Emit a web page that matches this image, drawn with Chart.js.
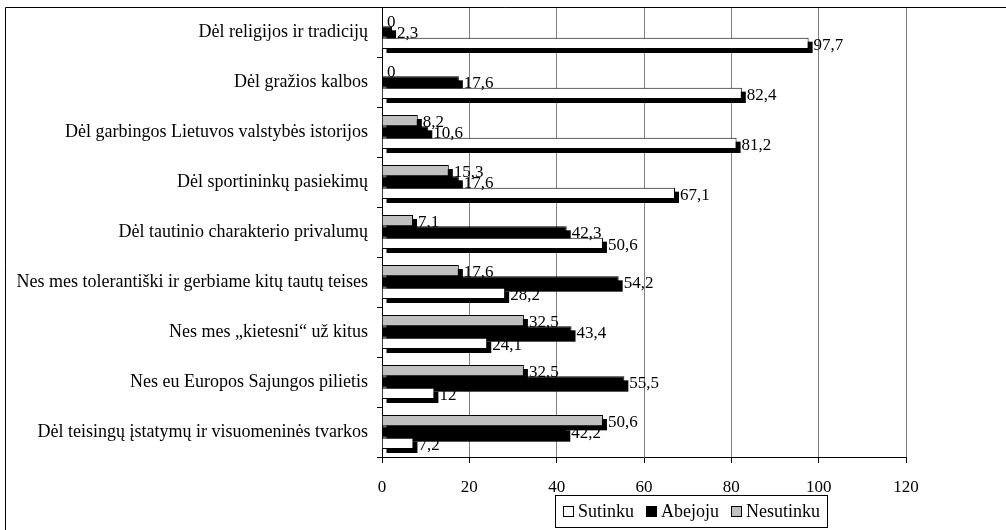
<!DOCTYPE html>
<html lang="lt">
<head>
    <meta charset="UTF-8">
    <title>Chart</title>
    <style>
        html, body {
            margin: 0;
            padding: 0;
            background: #fff;
            overflow: hidden;
        }
        #wrap {
            width: 1006px;
            height: 530px;
        }
    </style>
</head>
<body>
    <div id="wrap"><canvas id="barChart" width="1006" height="530"></canvas></div>

    <script src="https://cdn.jsdelivr.net/npm/chart.js"></script>
    <script>
        // categories, top to bottom
        const categories = [
            'Dėl religijos ir tradicijų',
            'Dėl gražios kalbos',
            'Dėl garbingos Lietuvos valstybės istorijos',
            'Dėl sportininkų pasiekimų',
            'Dėl tautinio charakterio privalumų',
            'Nes mes tolerantiški ir gerbiame kitų tautų teises',
            'Nes mes „kietesni“ už kitus',
            'Nes eu Europos Sajungos pilietis',
            'Dėl teisingų įstatymų ir visuomeninės tvarkos'
        ];
        const sutinku   = [97.7, 82.4, 81.2, 67.1, 50.6, 28.2, 24.1, 12, 7.2];
        const abejoju   = [2.3, 17.6, 10.6, 17.6, 42.3, 54.2, 43.4, 55.5, 42.2];
        const nesutinku = [0, 0, 8.2, 15.3, 7.1, 17.6, 32.5, 32.5, 50.6];
        const xTicks = [0, 20, 40, 60, 80, 100, 120];

        const FONT = 'Liberation Serif, Times New Roman, serif';
        const SHADOW = 4;

        const fmt = v => String(v).replace('.', ',');

        // drop shadow under bars (drawn first), value labels after
        const barDecor = {
            id: 'barDecor',
            beforeDatasetsDraw(chart) {
                const ctx = chart.ctx;
                ctx.save();
                ctx.fillStyle = '#000';
                chart.data.datasets.forEach((ds, i) => {
                    chart.getDatasetMeta(i).data.forEach(bar => {
                        const x0 = Math.min(bar.base, bar.x);
                        const w = Math.abs(bar.x - bar.base);
                        if (w <= 0) return;
                        ctx.fillRect(x0 + SHADOW, bar.y - bar.height / 2 + SHADOW, w, bar.height);
                    });
                });
                ctx.restore();
            },
            afterDatasetsDraw(chart) {
                const ctx = chart.ctx;
                ctx.save();
                ctx.font = '17px ' + FONT;
                ctx.fillStyle = '#000';
                ctx.textAlign = 'left';
                ctx.textBaseline = 'middle';
                chart.data.datasets.forEach((ds, i) => {
                    chart.getDatasetMeta(i).data.forEach((bar, j) => {
                        ctx.fillText(fmt(ds.data[j]), bar.x + SHADOW + 1, bar.y + 2);
                    });
                });
                ctx.restore();
            }
        };

        // outer frame and boxed legend
        const frameLegend = {
            id: 'frameLegend',
            afterDraw(chart) {
                const ctx = chart.ctx;
                ctx.save();
                ctx.strokeStyle = '#000';
                ctx.lineWidth = 1;
                ctx.beginPath();
                ctx.moveTo(5.5, 530);
                ctx.lineTo(5.5, 7.5);
                ctx.lineTo(1006, 7.5);
                ctx.stroke();

                const items = [
                    { label: 'Sutinku', color: '#fff' },
                    { label: 'Abejoju', color: '#000' },
                    { label: 'Nesutinku', color: '#c0c0c0' }
                ];
                ctx.font = '18px ' + FONT;
                ctx.textBaseline = 'middle';
                ctx.textAlign = 'left';
                let x = 563;
                const cy = 512;
                items.forEach(it => {
                    ctx.fillStyle = it.color;
                    ctx.fillRect(x + 0.5, cy - 5.5, 10, 10);
                    ctx.strokeRect(x + 0.5, cy - 5.5, 10, 10);
                    ctx.fillStyle = '#000';
                    ctx.fillText(it.label, x + 15, cy);
                    x += 15 + ctx.measureText(it.label).width + 12;
                });
                ctx.strokeRect(555.5, 495.5, 272, 32);
                ctx.restore();
            }
        };

        const ctx = document.getElementById('barChart').getContext('2d');
        new Chart(ctx, {
            type: 'bar',
            data: {
                labels: categories,
                datasets: [
                    {
                        label: 'Nesutinku',
                        data: nesutinku,
                        backgroundColor: '#c0c0c0',
                        borderColor: '#000',
                        borderWidth: 1
                    },
                    {
                        label: 'Abejoju',
                        data: abejoju,
                        backgroundColor: '#000',
                        borderColor: '#000',
                        borderWidth: 1
                    },
                    {
                        label: 'Sutinku',
                        data: sutinku,
                        backgroundColor: '#fff',
                        borderColor: '#000',
                        borderWidth: 1
                    }
                ]
            },
            options: {
                indexAxis: 'y',
                responsive: false,
                animation: false,
                devicePixelRatio: 1,
                categoryPercentage: 0.68,
                barPercentage: 1,
                layout: { padding: { left: 0, top: 7, right: 100, bottom: 0 } },
                plugins: {
                    legend: { display: false },
                    tooltip: { enabled: false }
                },
                scales: {
                    x: {
                        min: 0,
                        max: 120,
                        afterBuildTicks: scale => {
                            scale.ticks = xTicks.map(v => ({ value: v }));
                        },
                        afterFit: scale => {
                            scale.height = 73;
                            scale.paddingLeft = 0;
                        },
                        grid: {
                            color: c => c.tick && c.tick.value === 0 ? '#000' : '#808080',
                            tickColor: '#000',
                            tickLength: 6,
                            lineWidth: 1
                        },
                        border: { color: '#000', width: 1 },
                        ticks: {
                            color: '#000',
                            padding: 14,
                            maxRotation: 0,
                            font: { family: FONT, size: 17 }
                        }
                    },
                    y: {
                        afterFit: scale => {
                            scale.width = 382;
                            scale.paddingTop = 0;
                            scale.paddingBottom = 0;
                        },
                        grid: {
                            drawOnChartArea: false,
                            tickColor: '#000',
                            tickLength: 5,
                            offset: true
                        },
                        border: { color: '#000', width: 1 },
                        ticks: {
                            color: '#000',
                            padding: 9,
                            autoSkip: false,
                            font: { family: FONT, size: 18 }
                        }
                    }
                }
            },
            plugins: [barDecor, frameLegend]
        });
    </script>
</body>
</html>
